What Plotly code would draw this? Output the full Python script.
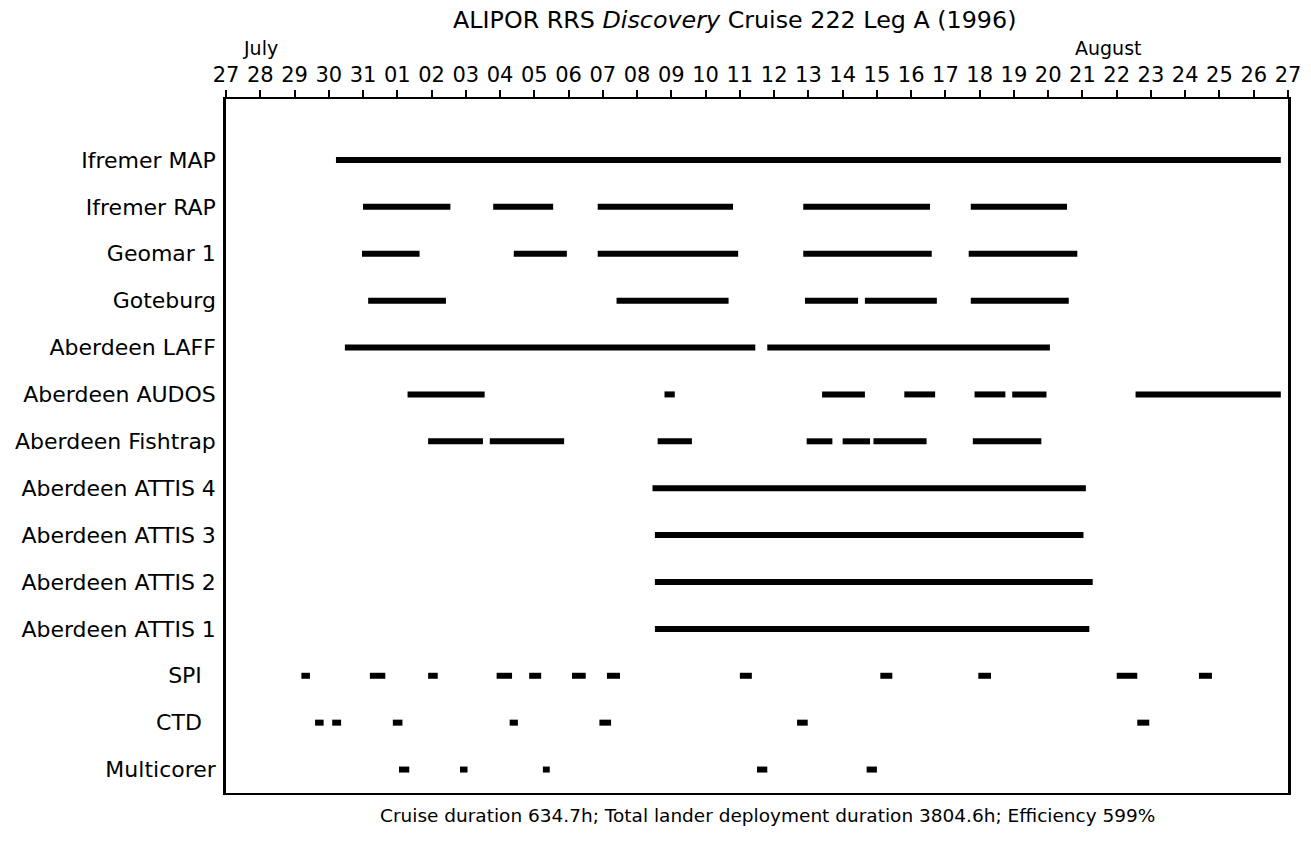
import plotly.graph_objects as go

# Days counted from 27 July 1996 (0) to 27 August 1996 (31)
tick_labels = ["27", "28", "29", "30", "31"] + [f"{d:02d}" for d in range(1, 28)]

rows = ["Ifremer MAP", "Ifremer RAP", "Geomar 1", "Goteburg", "Aberdeen LAFF",
        "Aberdeen AUDOS", "Aberdeen Fishtrap", "Aberdeen ATTIS 4", "Aberdeen ATTIS 3",
        "Aberdeen ATTIS 2", "Aberdeen ATTIS 1", "SPI\u00a0\u00a0", "CTD\u00a0\u00a0", "Multicorer"]

ifremer_map = [(3.21, 30.79)]
ifremer_rap = [(4.00, 6.55), (7.80, 9.55), (10.85, 14.80), (16.85, 20.55), (21.74, 24.55)]
geomar_1 = [(3.97, 5.65), (8.40, 9.95), (10.85, 14.95), (16.85, 20.60), (21.68, 24.85)]
goteburg = [(4.15, 6.42), (11.40, 14.67), (16.90, 18.45), (18.65, 20.75), (21.74, 24.60)]
aberdeen_laff = [(3.47, 15.45), (15.80, 24.05)]
aberdeen_audos = [(5.30, 7.55), (12.80, 13.10), (17.40, 18.65), (19.80, 20.70),
                  (21.85, 22.75), (22.95, 23.95), (26.55, 30.79)]
aberdeen_fishtrap = [(5.90, 7.50), (7.70, 9.87), (12.60, 13.60), (16.95, 17.70),
                     (18.00, 18.80), (18.90, 20.45), (21.80, 23.80)]
attis_4 = [(12.45, 25.10)]
attis_3 = [(12.52, 25.03)]
attis_2 = [(12.52, 25.30)]
attis_1 = [(12.52, 25.20)]
spi = [(2.20, 2.45), (4.20, 4.65), (5.90, 6.18), (7.90, 8.35), (8.85, 9.20), (10.10, 10.50),
       (11.12, 11.50), (15.00, 15.35), (19.10, 19.45), (21.96, 22.33), (26.00, 26.60),
       (28.40, 28.78)]
ctd = [(2.60, 2.85), (3.10, 3.36), (4.87, 5.15), (8.28, 8.52), (10.90, 11.24),
       (16.67, 16.98), (26.60, 26.95)]
multicorer = [(5.05, 5.35), (6.83, 7.05), (9.25, 9.45), (15.50, 15.80), (18.70, 19.00)]

segments = [ifremer_map, ifremer_rap, geomar_1, goteburg, aberdeen_laff, aberdeen_audos,
            aberdeen_fishtrap, attis_4, attis_3, attis_2, attis_1, spi, ctd, multicorer]

FONT = "DejaVu Sans, Liberation Sans, Arial, sans-serif"

fig = go.Figure()
for i, (name, segs) in enumerate(zip(rows, segments)):
    xs, ys = [], []
    for s, e in segs:
        xs += [s, e, None]
        ys += [i, i, None]
    fig.add_trace(go.Scatter(x=xs, y=ys, mode="lines", name=name.strip(),
                             line=dict(color="black", width=6),
                             showlegend=False, hoverinfo="skip"))

fig.update_layout(
    width=1311, height=856,
    margin=dict(l=226, r=10, t=99, b=63),
    paper_bgcolor="white", plot_bgcolor="white",
    font=dict(family=FONT, color="black", size=21),
    showlegend=False,
)

fig.update_xaxes(
    range=[0, 31], side="top",
    tickmode="array", tickvals=list(range(32)), ticktext=tick_labels,
    ticks="outside", ticklen=7, tickwidth=1.5, tickcolor="black",
    ticklabeloverflow="allow",
    showline=True, linecolor="black", linewidth=2, mirror=True,
    showgrid=False, zeroline=False,
    tickfont=dict(size=21, family=FONT),
)
fig.update_yaxes(
    range=[13.5, -1.3],
    tickmode="array", tickvals=list(range(len(rows))), ticktext=rows,
    ticks="outside", ticklen=3, tickcolor="rgba(0,0,0,0)",
    showline=True, linecolor="black", linewidth=2.5, mirror=True,
    showgrid=False, zeroline=False,
    tickfont=dict(size=22, family=FONT),
)

fig.add_annotation(text="ALIPOR RRS <i>Discovery</i> Cruise 222 Leg A (1996)",
                   xref="paper", yref="paper", x=0.479, y=1.0, yshift=79,
                   xanchor="center", yanchor="middle", showarrow=False,
                   font=dict(size=23.8, family=FONT))
fig.add_annotation(text="July", xref="x", yref="paper", x=1.0, y=1.0, yshift=51,
                   xanchor="center", yanchor="middle", showarrow=False,
                   font=dict(size=19, family=FONT))
fig.add_annotation(text="August", xref="x", yref="paper", x=25.75, y=1.0, yshift=51,
                   xanchor="center", yanchor="middle", showarrow=False,
                   font=dict(size=19, family=FONT))
fig.add_annotation(text="Cruise duration 634.7h; Total lander deployment duration 3804.6h; Efficiency 599%",
                   xref="paper", yref="paper", x=0.51, y=0.0, yshift=-22,
                   xanchor="center", yanchor="middle", showarrow=False,
                   font=dict(size=18.5, family=FONT))

fig.write_html("out.html")
